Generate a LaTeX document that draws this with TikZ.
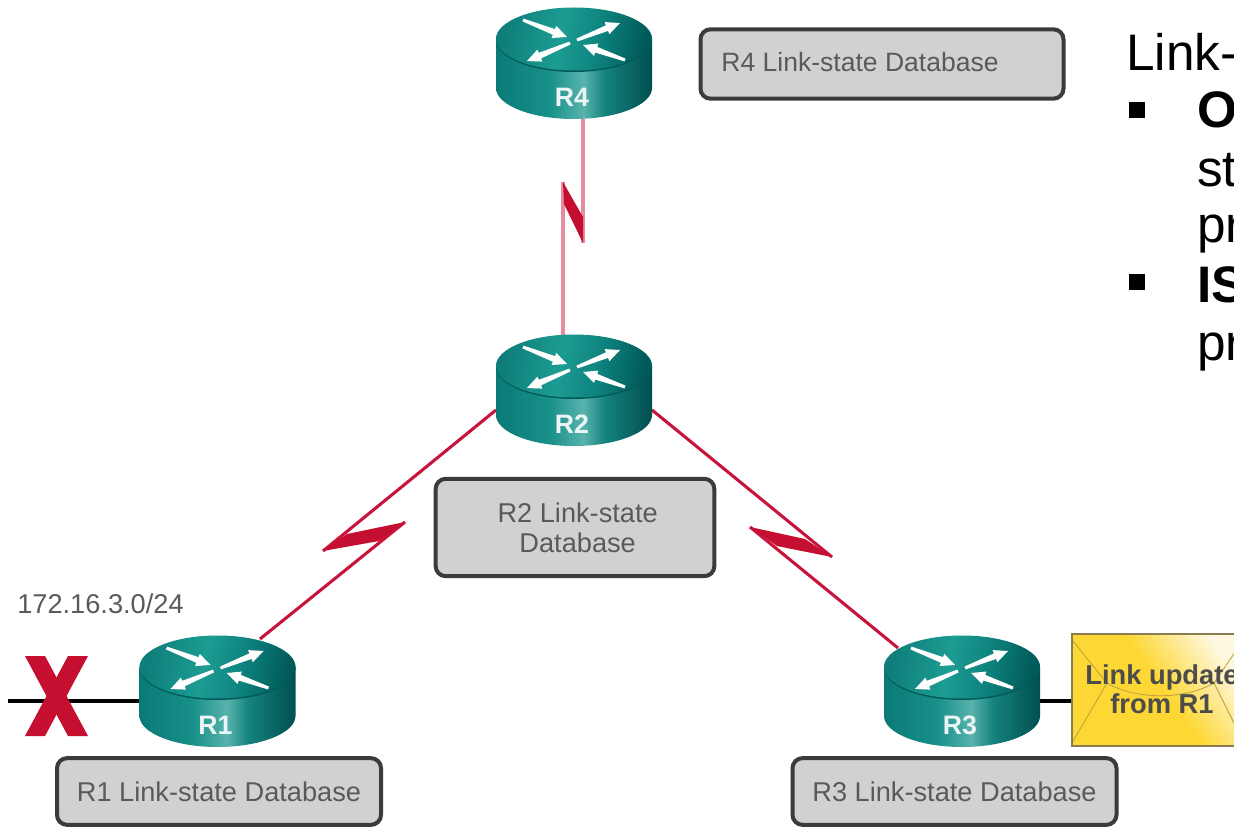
\documentclass[tikz,border=0pt]{standalone}
\usepackage{fontspec}
\setmainfont{Liberation Sans}
\usetikzlibrary{arrows.meta}
\definecolor{linkred}{HTML}{C8143C}
\definecolor{linkpink}{HTML}{E68CA0}
\definecolor{boltred}{HTML}{C40F30}
\definecolor{boxfill}{HTML}{D2D0D2}
\definecolor{boxedge}{HTML}{3C3A3C}
\definecolor{boxtext}{HTML}{5A5A5C}
\definecolor{rsA}{HTML}{0B7A76}
\definecolor{rsB}{HTML}{17908A}
\definecolor{rsC}{HTML}{58B3AC}
\definecolor{rsD}{HTML}{14827D}
\definecolor{rsE}{HTML}{004F4E}
\definecolor{rtA}{HTML}{0F7E7A}
\definecolor{rtB}{HTML}{1C9C92}
\definecolor{rtC}{HTML}{0F8580}
\definecolor{rtD}{HTML}{005A58}
\definecolor{enA}{HTML}{FDD835}
\definecolor{enB}{HTML}{FFF8E1}
\definecolor{enEdge}{HTML}{8A7C50}
\definecolor{enLine}{HTML}{C2A63C}
\pgfdeclarehorizontalshading{routerside}{100bp}{
  color(0bp)=(rsA);
  color(25bp)=(rsA);
  color(42bp)=(rsB);
  color(53bp)=(rsC);
  color(60bp)=(rsD);
  color(75bp)=(rsE);
  color(100bp)=(rsE)}
\pgfdeclarehorizontalshading{routertop}{100bp}{
  color(0bp)=(rtA);
  color(25bp)=(rtA);
  color(45bp)=(rtB);
  color(58bp)=(rtC);
  color(75bp)=(rtD);
  color(100bp)=(rtD)}
\pgfdeclarehorizontalshading{envshade}{100bp}{
  color(0bp)=(enA);
  color(25bp)=(enA);
  color(45bp)=(enA);
  color(64bp)=(enB);
  color(100bp)=(enB)}
\tikzset{
  x=0.75pt,y=-0.75pt,
  dbbox/.style={draw=boxedge,line width=3pt,fill=boxfill,rounded corners=7.5pt,inner sep=0pt,
    text=boxtext,font=\fontsize{20.4}{22.5}\selectfont,align=center},
  routerbox/.style={minimum width=117.75pt,minimum height=84pt,inner sep=0pt},
  routerlabel/.style={text=white!92!teal,font=\fontsize{20}{22}\selectfont\bfseries,inner sep=0pt},
  serial/.style={draw=linkred,line width=2.3pt},
  serialv/.style={draw=linkpink,line width=3pt},
  bolt/.style={fill=boltred,draw=none},
  ether/.style={draw=black,line width=3pt},
  slidetext/.style={inner sep=0pt,anchor=base west,font=\fontsize{38.5}{40}\selectfont},
  bulletsq/.style={fill=black,minimum size=12pt,inner sep=0pt},
  xbar/.style={fill=boltred,draw=none},
}
% tapered white arrow from (#1,#2) to (#3,#4)
\newcommand{\tarrow}[4]{%
  \pgfmathsetmacro{\dxx}{#3-(#1)}\pgfmathsetmacro{\dyy}{#4-(#2)}%
  \pgfmathsetmacro{\lenn}{veclen(\dxx,\dyy)}%
  \pgfmathsetmacro{\ux}{\dxx/\lenn}\pgfmathsetmacro{\uy}{\dyy/\lenn}%
  \pgfmathsetmacro{\nx}{-\uy}\pgfmathsetmacro{\ny}{\ux}%
  \pgfmathsetmacro{\nk}{\lenn-14}%
  \fill[white] ({#1+1.5*\nx},{#2+1.5*\ny})
    -- ({#1+\nk*\ux+3*\nx},{#2+\nk*\uy+3*\ny})
    -- ({#1+\nk*\ux+6.5*\nx},{#2+\nk*\uy+6.5*\ny})
    -- (#3,#4)
    -- ({#1+\nk*\ux-6.5*\nx},{#2+\nk*\uy-6.5*\ny})
    -- ({#1+\nk*\ux-3*\nx},{#2+\nk*\uy-3*\ny})
    -- ({#1-1.5*\nx},{#2-1.5*\ny}) -- cycle;}
\newcommand{\routerat}[4]{%
  \node[routerbox] (#1) at (#2,#3+56) {};
  \begin{scope}[shift={(#2,#3)}]
    \shade[shading=routerside] (-78,32) -- (-78,81) .. controls (-78,98) and (-43,112) .. (0,112)
      .. controls (43,112) and (78,98) .. (78,81) -- (78,32) -- cycle;
    \fill[rtD] (0,33) circle[x radius=78,y radius=32];
    \shade[shading=routertop,shading angle=-10] (0,32) circle[x radius=78,y radius=31.5];
    \tarrow{-51}{13}{-7}{30}
    \tarrow{3}{33}{46}{16}
    \tarrow{-4}{36}{-47}{54}
    \tarrow{51}{53}{9}{38}
    \node[routerlabel] (#1label) at (-2,90) {#4};
  \end{scope}}
\begin{document}
\begin{tikzpicture}
\useasboundingbox (0,0) rectangle (1234,827);
\clip (0,0) rectangle (1234,827);
\fill[white] (0,0) rectangle (1234,827);

% link ports and bolt points
\coordinate (p4s) at (583,119);
\coordinate (b4a) at (583,243);
\coordinate (b4b) at (563,182);
\coordinate (p2n) at (563,336);
\coordinate (p2w) at (496,410);
\coordinate (b1a) at (323,551);
\coordinate (b1b) at (405,522);
\coordinate (p1n) at (260,639);
\coordinate (p2e) at (652,410);
\coordinate (b3a) at (832,557);
\coordinate (b3b) at (750,527);
\coordinate (p3n) at (898,648);
\coordinate (lanend) at (8,701);
\coordinate (p1w) at (140,701);
\coordinate (p3e) at (1040,701);
\coordinate (envw) at (1072,701);

\draw[serialv] (p4s) -- (b4a);
\draw[serialv] (b4b) -- (p2n);
\fill[bolt] (b4b) -- (583,217) -- (b4a) -- (564,204) -- cycle;

\draw[serial] (p2w) -- (b1a);
\draw[serial] (b1b) -- (p1n);
\fill[bolt] (b1a) -- (347,534) -- (b1b) -- (379,541) -- cycle;

\draw[serial] (p2e) -- (b3a);
\draw[serial] (b3b) -- (p3n);
\fill[bolt] (b3b) -- (805,539) -- (b3a) -- (777,546) -- cycle;

\draw[ether] (lanend) -- (p1w);
\draw[ether] (p3e) -- (envw);

% routers
\routerat{R4}{574}{7}{R4}
\routerat{R2}{574}{334}{R2}
\routerat{R1}{217.5}{635}{R1}
\routerat{R3}{962}{635}{R3}

% X
\fill[xbar] (25,656) -- (45,656) -- (88,736) -- (68,736) -- cycle;
\fill[xbar] (68,656) -- (88,656) -- (45,736) -- (25,736) -- cycle;

% databases
\node[dbbox,minimum width=272.25pt,minimum height=52pt] (db4) at (882,64) {};
\node[text=boxtext,font=\fontsize{19.9}{22}\selectfont,inner sep=0pt] (db4t) at (860,62) {R4 Link-state Database};
\node[dbbox,minimum width=209pt,minimum height=73pt] (db2) at (575,527.5) {\hspace*{4pt}R2 Link-state\\\hspace*{4pt}Database};
\node[dbbox,minimum width=243pt,minimum height=50pt] (db1) at (219,791.5) {R1 Link-state Database};
\node[dbbox,minimum width=243pt,minimum height=50pt] (db3) at (954.5,791.5) {R3 Link-state Database};

\node[text=boxtext,inner sep=0pt,font=\fontsize{20.4}{22}\selectfont] (net) at (100.5,604) {172.16.3.0/24};

% envelope
\shade[shading=envshade,shading angle=35] (1072,634) rectangle (1300,746);
\draw[draw=enLine,line width=0.7pt] (1072,640) -- (1107,683) .. controls (1135,700) and (1185,700) .. (1214,683) -- (1240,645);
\draw[draw=enLine,line width=0.7pt] (1072,743) -- (1107,683);
\draw[draw=enLine,line width=0.7pt] (1214,683) -- (1240,735);
\draw[draw=enEdge,line width=1.6pt] (1300,634) -- (1072,634) -- (1072,746) -- (1300,746);
\node[font=\fontsize{20.5}{22}\selectfont\bfseries,text=black!70,inner sep=0pt,align=center] (env) at (1162,689) {Link update\\from R1};

% slide text
\node[slidetext] (t1) at (1126,71) {Link-};
\node[bulletsq] (s1) at (1137,110) {};
\node[slidetext,font=\fontsize{38.5}{40}\selectfont\bfseries] (t2) at (1197,128) {O};
\node[slidetext] (t3) at (1197,187) {st};
\node[slidetext] (t4) at (1197,243) {pr};
\node[bulletsq] (s2) at (1137,282) {};
\node[slidetext,font=\fontsize{38.5}{40}\selectfont\bfseries] (t5) at (1197,302) {IS};
\node[slidetext] (t6) at (1197,360) {pr};
\end{tikzpicture}
\end{document}
